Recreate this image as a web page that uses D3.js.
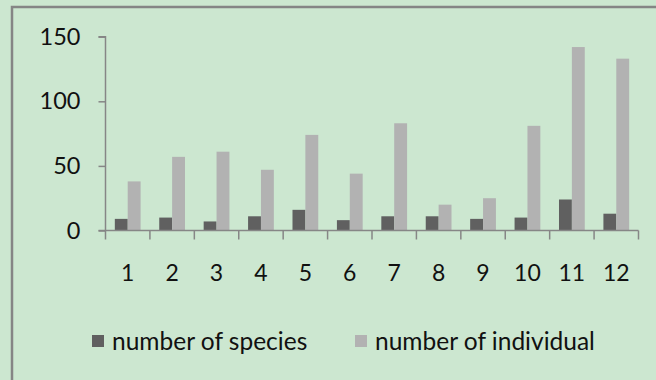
<!DOCTYPE html>
<html><head><meta charset="utf-8">
<script src="https://cdn.jsdelivr.net/npm/d3@7"></script>
<style>html,body{margin:0;padding:0;background:#cce7d0;}svg{display:block;}</style>
</head><body>
<svg id="chart" width="656" height="380"></svg>
<script>
const categories = ["1","2","3","4","5","6","7","8","9","10","11","12"];
const seriesNames = ["number of species","number of individual"];
const species = [9,10,7,11,16,8,11,11,9,10,24,13];
const individuals = [38,57,61,47,74,44,83,20,25,81,142,133];
const yTicks = [0,50,100,150];
const colors = ["#606060","#b2b2b2"];

(function(){
const svg = d3.select("#chart");
const W = 656, H = 380;
const font = "Lato, 'Open Sans', sans-serif";

svg.append("rect").attr("x",0).attr("y",0).attr("width",W).attr("height",H).attr("fill","#cce7d0");
svg.append("path").attr("d",`M12,${H+5}V7H${W+5}`).attr("fill","none").attr("stroke","#858585").attr("stroke-width",2.5);

const mLeft = 105.5, mRight = 638.5, mTop = 36.7, mBottom = 230.5;
const x = d3.scaleBand().domain(categories).range([mLeft,mRight]).padding(0);
const bw = x.bandwidth();
const x1 = d3.scaleBand().domain(seriesNames).range([bw*0.21, bw*0.79]).padding(0);
const y = d3.scaleLinear().domain([0,150]).range([mBottom, mTop]);

const data = categories.map((c,i)=>({cat:c, vals:[species[i], individuals[i]]}));

const g = svg.append("g");
data.forEach(d=>{
  seriesNames.forEach((s,j)=>{
    g.append("rect")
      .attr("x", x(d.cat)+x1(s))
      .attr("y", y(d.vals[j]))
      .attr("width", x1.bandwidth())
      .attr("height", y(0)-y(d.vals[j]))
      .attr("fill", colors[j]);
  });
});

const yAxis = svg.append("g").attr("transform",`translate(${mLeft},0)`)
  .call(d3.axisLeft(y).tickValues(yTicks).tickSize(7).tickPadding(18));
yAxis.select(".domain").attr("stroke","#868686").attr("stroke-width",1.5).attr("d",`M-7,${mTop}H0V${mBottom}`);
yAxis.selectAll(".tick line").attr("stroke","#868686").attr("stroke-width",1.5);
yAxis.selectAll("text").attr("font-family",font).attr("font-size",23.5).attr("fill","#111");

const xg = svg.append("g");
xg.append("line").attr("x1",mLeft-7).attr("x2",mRight).attr("y1",mBottom).attr("y2",mBottom).attr("stroke","#868686").attr("stroke-width",1.5);
const bounds = categories.map(c=>x(c)).concat([mRight]);
xg.selectAll("line.tk").data(bounds).enter().append("line").attr("class","tk")
  .attr("x1",d=>d).attr("x2",d=>d).attr("y1",mBottom).attr("y2",mBottom+9)
  .attr("stroke","#868686").attr("stroke-width",1.5);
xg.selectAll("text").data(categories).enter().append("text")
  .attr("x",d=>x(d)+bw/2).attr("y",273).attr("dy","0.35em")
  .attr("text-anchor","middle").attr("font-family",font).attr("font-size",23).attr("fill","#111")
  .text(d=>d);

const legendX = [92, 355];
seriesNames.forEach((s,j)=>{
  svg.append("rect").attr("x",legendX[j]).attr("y",335).attr("width",12).attr("height",12).attr("fill",colors[j]);
  svg.append("text").attr("x",legendX[j]+20).attr("y",341).attr("dy","0.35em")
    .attr("font-family",font).attr("font-size",24.5).attr("fill","#111").text(s);
});
})();
</script>
</body></html>
